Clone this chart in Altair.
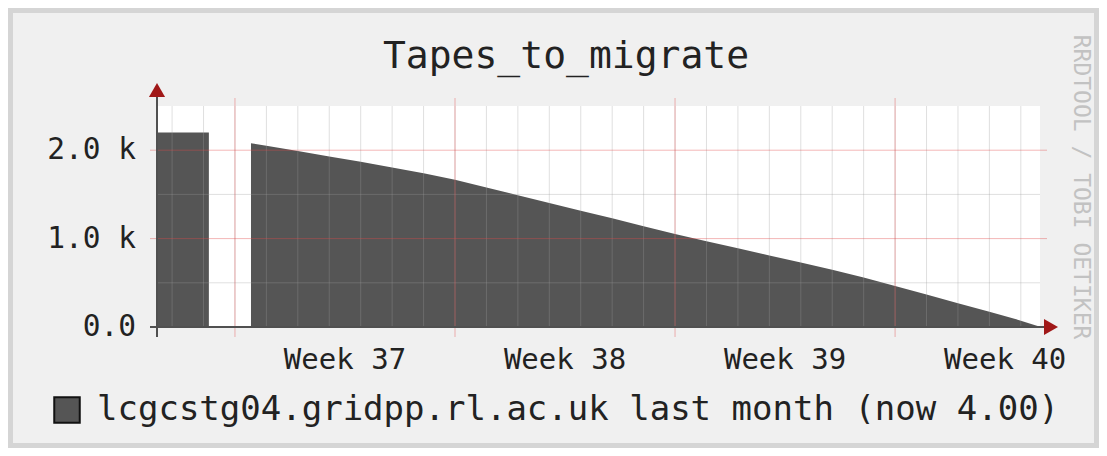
import altair as alt
import pandas as pd

# ---- data ----
days = [-2.48, -0.83, -0.83, 0.51, 0.51, 1, 2, 3, 4, 5, 6, 7, 8, 9, 10, 11, 12, 13,
        14, 15, 16, 17, 18, 19, 20, 21, 22, 23, 24, 25, 25.61]
tapes = [2200, 2200, 0, 0, 2080, 2050, 1990, 1930, 1868, 1805, 1738, 1665, 1578, 1490,
         1403, 1316, 1229, 1140, 1051, 970, 890, 810, 730, 648, 560, 465, 368, 270, 172, 72, 4]
series_name = "lcgcstg04.gridpp.rl.ac.uk last month (now 4.00)"
week_starts = [0, 7, 14, 21]
week_label_days = [3.5, 10.5, 17.5, 24.5]
week_labels = ["Week 37", "Week 38", "Week 39", "Week 40"]
minor_x = list(range(-2, 26))
minor_y = [500, 1500]
major_y = [1000, 2000]
y_ticks = [0, 1000, 2000]
y_labels = ["0.0", "1.0 k", "2.0 k"]
x_domain = [-2.48, 25.61]
y_domain = [0, 2500]
title_text = "Tapes_to_migrate"
watermark_text = "RRDTOOL / TOBI OETIKER"

FONT = "DejaVu Sans Mono"
W, H = 883, 221
PAD = {"left": 149, "top": 98, "right": 59, "bottom": 121}

xs = alt.Scale(domain=x_domain, nice=False, zero=False)
ys = alt.Scale(domain=y_domain, nice=False, zero=False)

df = pd.DataFrame({"day": days, "tapes": tapes,
                   "series": [series_name] * len(days)})
one = pd.DataFrame({"k": [0]})

frame = alt.Chart(one).mark_rect(fillOpacity=0, stroke="#d5d5d5", strokeWidth=5).encode(
    x=alt.value(-PAD["left"] + 2.5), x2=alt.value(W + PAD["right"] - 2.5),
    y=alt.value(-PAD["top"] + 2.5), y2=alt.value(H + PAD["bottom"] - 2.5))

area = alt.Chart(df).mark_area(opacity=1, interpolate="linear").encode(
    x=alt.X("day:Q", scale=xs, axis=None),
    y=alt.Y("tapes:Q", scale=ys, axis=None, stack=None),
    color=alt.Color("series:N", scale=alt.Scale(range=["#555555"]), legend=alt.Legend(
        orient="none", legendX=-107, legendY=287, title=None,
        symbolType="square", symbolSize=650, symbolStrokeColor="#111111",
        symbolStrokeWidth=2, symbolOpacity=1, labelFont=FONT, labelFontSize=34,
        labelColor="#222222", labelOffset=13, padding=0, labelLimit=1500)),
)

minor_v = alt.Chart(pd.DataFrame({"day": minor_x})).mark_rule(
    color="#9a9a9a", opacity=0.32, strokeWidth=1).encode(
    x=alt.X("day:Q", scale=xs, axis=None), y=alt.value(0), y2=alt.value(H))
minor_h = alt.Chart(pd.DataFrame({"v": minor_y})).mark_rule(
    color="#9a9a9a", opacity=0.32, strokeWidth=1).encode(
    y=alt.Y("v:Q", scale=ys, axis=None), x=alt.value(0), x2=alt.value(W))
major_v = alt.Chart(pd.DataFrame({"day": week_starts})).mark_rule(
    color="#e04848", opacity=0.4, strokeWidth=1).encode(
    x=alt.X("day:Q", scale=xs, axis=None), y=alt.value(-8), y2=alt.value(H + 10))
major_h = alt.Chart(pd.DataFrame({"v": major_y})).mark_rule(
    color="#e04848", opacity=0.4, strokeWidth=1).encode(
    y=alt.Y("v:Q", scale=ys, axis=None), x=alt.value(-7), x2=alt.value(W + 7))

y_line = alt.Chart(one).mark_rule(color="#505050", strokeWidth=2).encode(
    x=alt.value(0), y=alt.value(-10), y2=alt.value(H + 10))
x_line = alt.Chart(one).mark_rule(color="#505050", strokeWidth=2).encode(
    y=alt.value(H), x=alt.value(-7), x2=alt.value(W + 6))
y_arrow = alt.Chart(one).mark_point(shape="triangle-up", filled=True, size=260,
                                    color="#a01818", opacity=1).encode(
    x=alt.value(0), y=alt.value(-16))
x_arrow = alt.Chart(one).mark_point(shape="triangle-right", filled=True, size=260,
                                    color="#a01818", opacity=1).encode(
    x=alt.value(W + 11), y=alt.value(H))

x_text = alt.Chart(pd.DataFrame({"day": week_label_days, "lab": week_labels})).mark_text(
    font=FONT, fontSize=29, color="#222222", align="center", baseline="alphabetic").encode(
    x=alt.X("day:Q", scale=xs, axis=None), y=alt.value(H + 42), text="lab:N")
y_text = alt.Chart(pd.DataFrame({"v": y_ticks, "lab": y_labels})).mark_text(
    font=FONT, fontSize=29.5, color="#222222", align="right", baseline="middle").encode(
    y=alt.Y("v:Q", scale=ys, axis=None), x=alt.value(-21), text="lab:N")

title = alt.Chart(pd.DataFrame({"t": [title_text]})).mark_text(
    font=FONT, fontSize=38, color="#222222", align="center", baseline="alphabetic").encode(
    text="t:N", x=alt.value(409), y=alt.value(-38))
watermark = alt.Chart(pd.DataFrame({"t": [watermark_text]})).mark_text(
    font=FONT, fontSize=23, color="#c2c2c2", align="center", baseline="middle", angle=90).encode(
    text="t:N", x=alt.value(924), y=alt.value(81))

chart = alt.layer(
    frame, area, minor_v, minor_h, major_v, major_h, y_line, x_line, y_arrow, x_arrow,
    x_text, y_text, title, watermark
).properties(
    width=W, height=H,
    autosize=alt.AutoSizeParams(type="none"),
    padding=PAD,
    background="#f0f0f0",
).configure_view(fill="white", strokeWidth=0)

chart.save("out.html", embed_options={"renderer": "svg", "actions": False})
